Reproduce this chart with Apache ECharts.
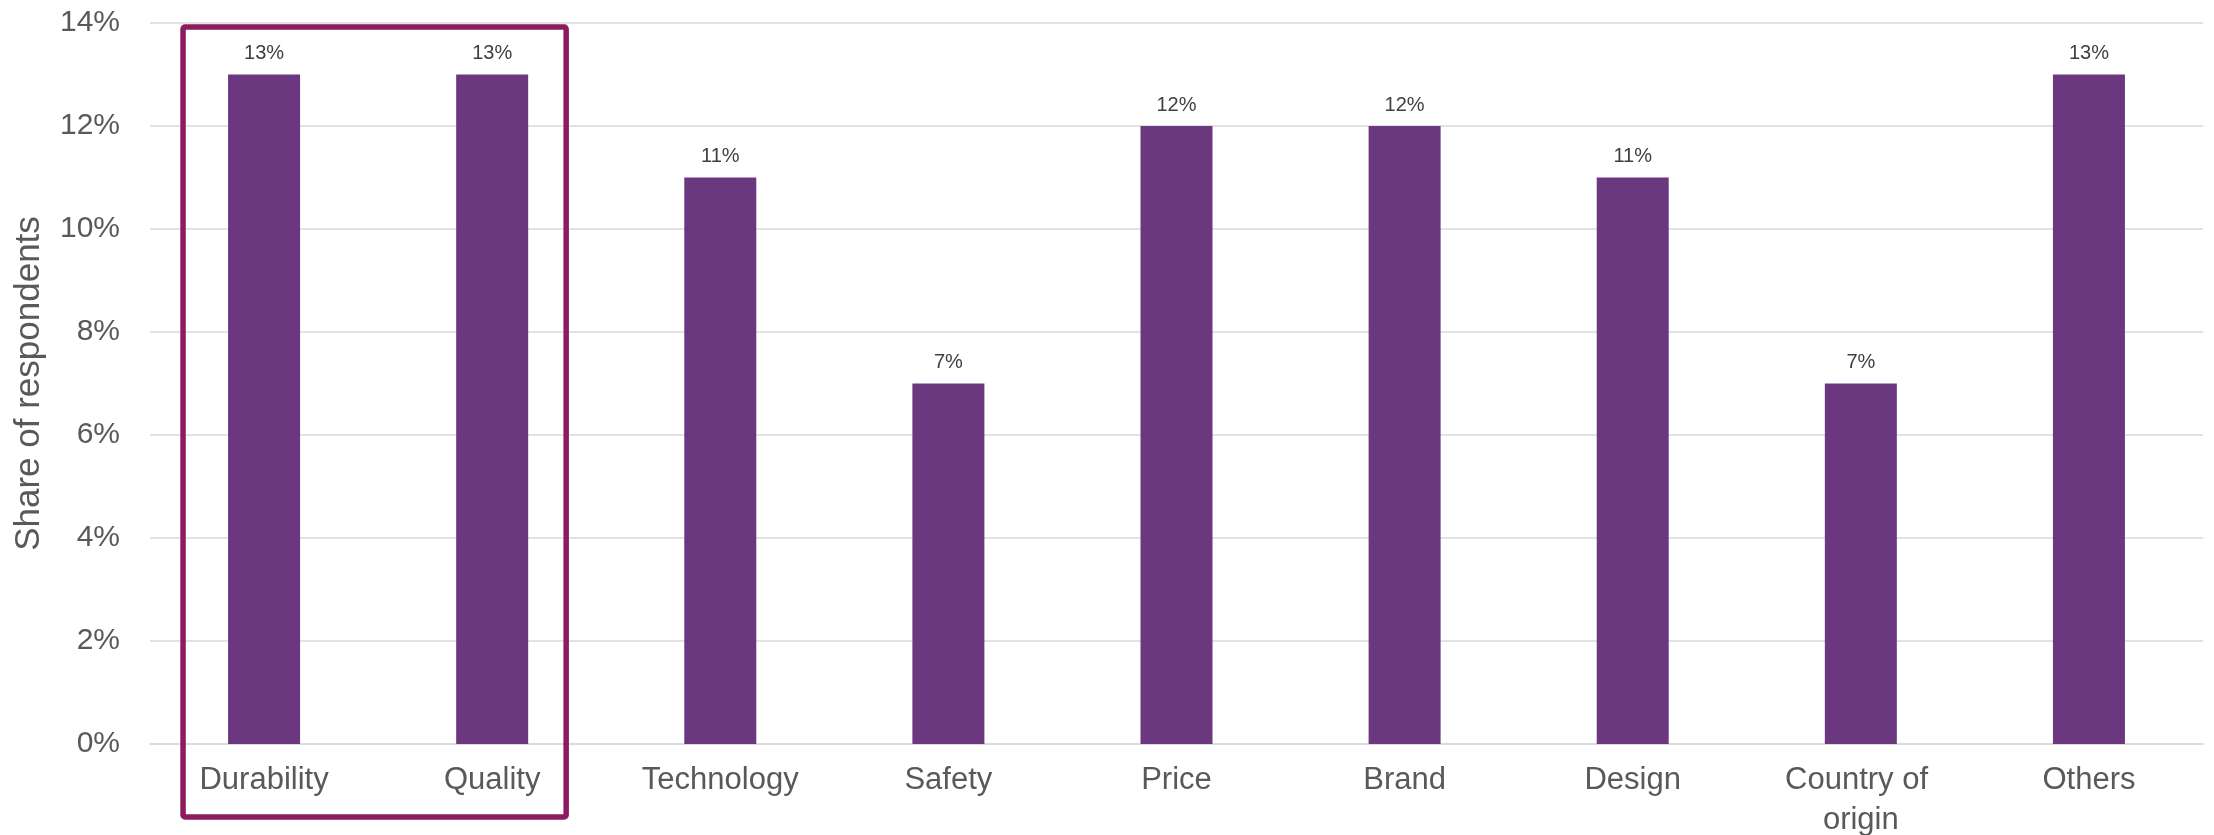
<!DOCTYPE html>
<html>
<head>
<meta charset="utf-8">
<script src="https://cdn.jsdelivr.net/npm/echarts@6/dist/echarts.min.js"></script>
<style>
  html, body { margin: 0; padding: 0; background: #ffffff; }
  #chart { width: 2214px; height: 835px; }
</style>
</head>
<body>
<div id="chart"></div>
<script>
// Purchase criteria and the share of respondents naming each (percent)
const categories = ['Durability', 'Quality', 'Technology', 'Safety', 'Price', 'Brand', 'Design', 'Country of origin', 'Others'];
const shares = [13, 13, 11, 7, 12, 12, 11, 7, 13];
const yTicks = { min: 0, max: 14, interval: 2 };
// Criteria grouped inside the highlight frame
const highlighted = ['Durability', 'Quality'];

const FONT = '"Liberation Sans", Arial, sans-serif';
const chart = echarts.init(document.getElementById('chart'), null, { renderer: 'canvas' });

chart.setOption({
  backgroundColor: '#ffffff',
  animation: false,
  grid: { left: 150, right: 11, top: 23, bottom: 91, containLabel: false, outerBoundsMode: 'none' },
  xAxis: {
    type: 'category',
    data: categories,
    axisTick: { show: false },
    axisLine: { lineStyle: { color: '#d9d9d9', width: 1.5 } },
    axisLabel: {
      interval: 0,
      margin: 16,
      color: '#595959',
      fontFamily: FONT,
      fontSize: 31,
      lineHeight: 40,
      width: 200,
      overflow: 'break'
    }
  },
  yAxis: {
    type: 'value',
    min: yTicks.min,
    max: yTicks.max,
    interval: yTicks.interval,
    name: 'Share of respondents',
    nameLocation: 'middle',
    nameRotate: 90,
    nameGap: 103,
    nameTextStyle: { color: '#595959', fontFamily: FONT, fontSize: 35 },
    axisLine: { show: false },
    axisTick: { show: false },
    splitLine: { lineStyle: { color: '#d9d9d9', width: 1.5 } },
    axisLabel: {
      margin: 30,
      color: '#595959',
      fontFamily: FONT,
      fontSize: 30,
      formatter: '{value}%'
    }
  },
  series: [{
    type: 'bar',
    data: shares,
    barWidth: 72,
    itemStyle: { color: '#6b3880' },
    label: {
      show: true,
      position: 'top',
      distance: 11,
      color: '#404040',
      fontFamily: FONT,
      fontSize: 20,
      formatter: '{c}%'
    }
  }]
});

// Frame around the highlighted criteria, placed from the axis scales
function drawFrame() {
  const first = categories.indexOf(highlighted[0]);
  const last = categories.indexOf(highlighted[highlighted.length - 1]);
  const pLeft = chart.convertToPixel({ gridIndex: 0 }, [first, yTicks.max]);
  const pRight = chart.convertToPixel({ gridIndex: 0 }, [last, yTicks.min]);
  const x0 = pLeft[0] - 81;
  const x1 = pRight[0] + 74;
  const y0 = pLeft[1] + 4;
  const y1 = pRight[1] + 73;
  chart.setOption({
    graphic: [{
      type: 'rect',
      id: 'highlightFrame',
      z: 100,
      shape: { x: x0, y: y0, width: x1 - x0, height: y1 - y0, r: 2 },
      style: { fill: 'none', stroke: '#8c1b60', lineWidth: 5.5 }
    }]
  });
}
drawFrame();
</script>
</body>
</html>
